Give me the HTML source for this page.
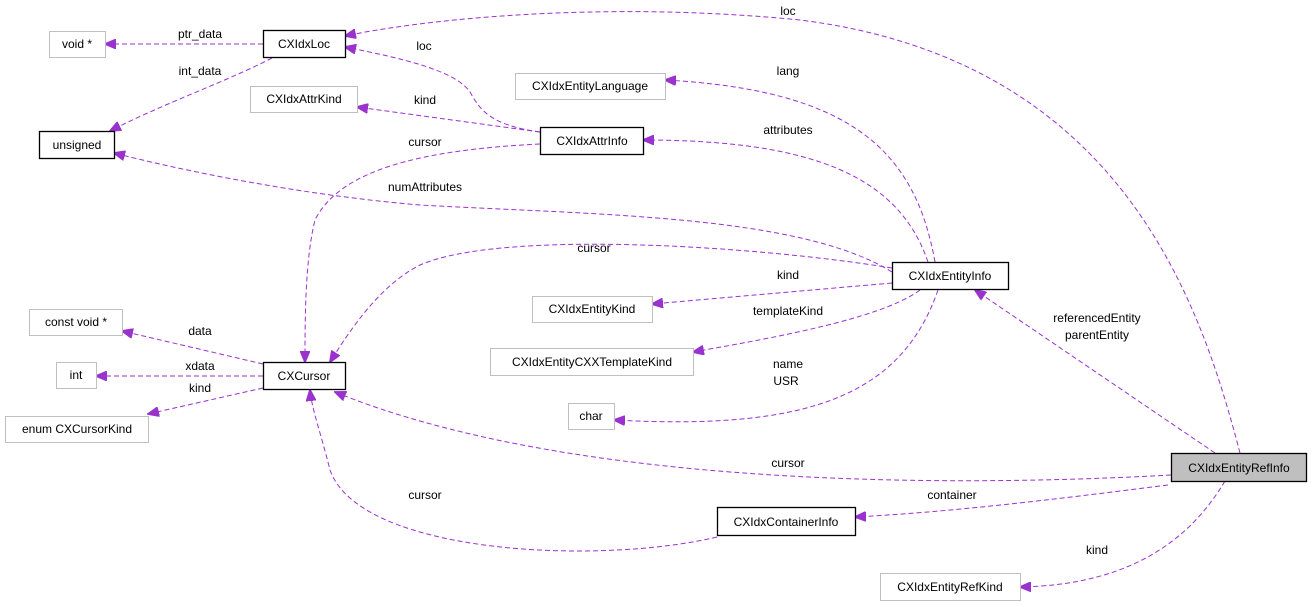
<!DOCTYPE html>
<html><head><meta charset="utf-8"><style>
body{margin:0;background:#fff;}
svg{display:block;font-family:"Liberation Sans",sans-serif;font-size:12px;}
text{fill:#000;}
.e{fill:none;stroke:#9a32cd;stroke-width:1;stroke-dasharray:5,3;}
.b{fill:#fff;stroke:#000;stroke-width:1.3;}
.g{fill:#fff;stroke:#bfbfbf;stroke-width:1;}
</style></head><body>
<svg width="1312" height="607" viewBox="0 0 1312 607" xmlns="http://www.w3.org/2000/svg">
<defs><marker id="a" markerUnits="userSpaceOnUse" markerWidth="12" markerHeight="10" refX="11" refY="5" orient="auto"><polygon points="0,0 12,5 0,10" fill="#9a32cd" stroke="#9a32cd"/></marker></defs>
<g marker-end="url(#a)">
<path class="e" d="M263,44 L105,44"/>
<path class="e" d="M272,58 C230,80 160,105 110,131"/>
<path class="e" d="M1240,453 C1200,300 1120,60 800,20 C600,0 420,20 345,36"/>
<path class="e" d="M540,132 C490,125 480,110 470,92 C455,70 400,58 345,47"/>
<path class="e" d="M540,132 L357,107"/>
<path class="e" d="M540,144 C420,150 340,170 315,220 C305,260 305,320 305,362"/>
<path class="e" d="M892,272 C800,215 600,215 420,205 C300,195 180,170 114,153"/>
<path class="e" d="M935,262 C915,150 850,90 665,80"/>
<path class="e" d="M928,262 C900,180 820,140 643,140"/>
<path class="e" d="M892,268 C750,245 500,230 420,265 C380,285 350,330 330,362"/>
<path class="e" d="M892,283 L652,304"/>
<path class="e" d="M920,290 C880,320 760,340 693,352"/>
<path class="e" d="M938,290 C900,400 800,430 614,420"/>
<path class="e" d="M1215,453 L975,290"/>
<path class="e" d="M1171,475 C900,490 550,480 335,392"/>
<path class="e" d="M1168,485 C1050,500 950,512 855,517"/>
<path class="e" d="M717,537 C600,565 360,555 330,470 C320,430 312,410 310,390"/>
<path class="e" d="M1225,481 C1190,540 1130,585 1020,587"/>
<path class="e" d="M263,364 L122,331"/>
<path class="e" d="M263,376 L96,376"/>
<path class="e" d="M263,388 L148,414"/>
</g>
<rect class="g" x="49.5" y="31.5" width="56" height="26"/><text x="77" y="48" text-anchor="middle">void *</text>
<rect class="b" x="263.5" y="30.5" width="82" height="27"/><text x="304" y="48" text-anchor="middle">CXIdxLoc</text>
<rect class="b" x="39.5" y="131.5" width="75" height="27"/><text x="77" y="149" text-anchor="middle">unsigned</text>
<rect class="g" x="250.5" y="86.5" width="107" height="26"/><text x="304" y="103" text-anchor="middle">CXIdxAttrKind</text>
<rect class="g" x="515.5" y="73.5" width="150" height="26"/><text x="590" y="90" text-anchor="middle">CXIdxEntityLanguage</text>
<rect class="b" x="540.5" y="127.5" width="103" height="27"/><text x="592" y="145" text-anchor="middle">CXIdxAttrInfo</text>
<rect class="b" x="892.5" y="262.5" width="116" height="27"/><text x="950" y="280" text-anchor="middle">CXIdxEntityInfo</text>
<rect class="g" x="532.5" y="296.5" width="120" height="26"/><text x="592" y="313" text-anchor="middle">CXIdxEntityKind</text>
<rect class="g" x="490.5" y="348.5" width="203" height="27"/><text x="592" y="366" text-anchor="middle">CXIdxEntityCXXTemplateKind</text>
<rect class="g" x="568.5" y="403.5" width="46" height="26"/><text x="591" y="420" text-anchor="middle">char</text>
<rect class="g" x="29.5" y="309.5" width="93" height="26"/><text x="76" y="326" text-anchor="middle">const void *</text>
<rect class="g" x="56.5" y="362.5" width="40" height="26"/><text x="76" y="379" text-anchor="middle">int</text>
<rect class="g" x="5.5" y="416.5" width="143" height="26"/><text x="77" y="433" text-anchor="middle">enum CXCursorKind</text>
<rect class="b" x="263.5" y="362.5" width="82" height="27"/><text x="304" y="380" text-anchor="middle">CXCursor</text>
<rect class="b" x="717.5" y="507.5" width="138" height="28"/><text x="786" y="526" text-anchor="middle">CXIdxContainerInfo</text>
<rect class="g" x="880.5" y="573.5" width="140" height="27"/><text x="950" y="591" text-anchor="middle">CXIdxEntityRefKind</text>
<rect x="1171.5" y="453.5" width="135" height="28" fill="#bfbfbf" stroke="#000" stroke-width="1.3"/><text x="1239" y="472" text-anchor="middle">CXIdxEntityRefInfo</text>
<g text-anchor="middle">
<text x="200" y="38">ptr_data</text>
<text x="200" y="75">int_data</text>
<text x="788" y="15">loc</text>
<text x="424" y="50">loc</text>
<text x="425" y="104">kind</text>
<text x="425" y="146">cursor</text>
<text x="425" y="191">numAttributes</text>
<text x="788" y="75">lang</text>
<text x="788" y="134">attributes</text>
<text x="594" y="252">cursor</text>
<text x="788" y="279">kind</text>
<text x="788" y="315">templateKind</text>
<text x="788" y="368">name</text>
<text x="786" y="385">USR</text>
<text x="1097" y="322">referencedEntity</text>
<text x="1097" y="339">parentEntity</text>
<text x="788" y="467">cursor</text>
<text x="952" y="499">container</text>
<text x="425" y="499">cursor</text>
<text x="1097" y="554">kind</text>
<text x="200" y="335">data</text>
<text x="200" y="370">xdata</text>
<text x="200" y="392">kind</text>
</g>
</svg>
</body></html>
